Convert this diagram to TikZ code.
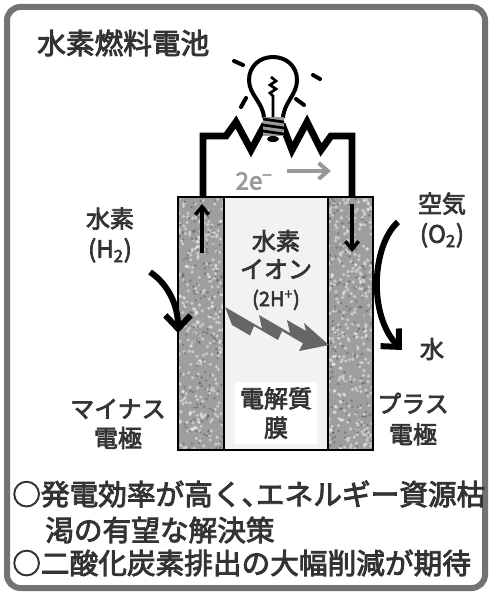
\documentclass[tikz,border=0pt]{standalone}
\usepackage{fontspec}
\setmainfont{Noto Sans CJK JP}[FakeBold=3]
\usetikzlibrary{arrows.meta}

\begin{document}
\begin{tikzpicture}[x=0.75pt,y=-0.75pt]
\tikzstyle{txt}=[text=black!80, inner sep=0pt, align=center, font=\fontsize{18}{22}\selectfont]
\tikzstyle{big}=[txt, font=\fontsize{21.5}{25}\selectfont]
\tikzstyle{wire}=[line width=5.2pt, line join=miter]
\tikzstyle{flow}=[line width=4.5pt, -{Straight Barb[length=10pt,width=19pt]}]
\tikzstyle{current}=[line width=2.6pt, -{Straight Barb[length=6pt,width=10pt]}]
\tikzstyle{ray}=[line width=3pt, line cap=round]

\useasboundingbox (0,0) rectangle (491,595);
% outer frame
\draw[black!55, line width=4.5pt, rounded corners=10pt] (7,7) rectangle (485,588);

% electrodes with a grainy fill
\pgfmathsetseed{17}
\begin{scope}
\clip (178,197) rectangle (224,450) (328,197) rectangle (373,450);
\fill[black!38] (178,197) rectangle (373,450);
\foreach \i in {1,...,1300}
  \fill[white, opacity=.45] ({178+195*rnd},{197+253*rnd}) circle (1.8);
\foreach \i in {1,...,700}
  \fill[black!80, opacity=.35] ({178+195*rnd},{197+253*rnd}) circle (1.3);
\end{scope}
% membrane
\fill[black!5] (224,197) rectangle (328,450);
\draw[line width=2pt] (178,197) rectangle (373,450);
\draw[line width=2pt] (224,197) -- (224,450) (328,197) -- (328,450);

% outer circuit
\coordinate (lw) at (203,197);
\coordinate (rw) at (352,197);
\draw[wire] (lw) -- (203,136) -- (226,136) -- (236,122) -- (251,150) -- (265,124);
\draw[wire] (282,124) -- (292,150) -- (307,122) -- (321,150) -- (331,136) -- (352,136) -- (rw);

% lamp
\fill[white] (264,118) .. controls (263,102) and (249,95) .. (249,80) .. controls (249,66) and (260,57) .. (273,57) .. controls (286,57) and (297,66) .. (297,80) .. controls (297,95) and (284,102) .. (283,118) -- cycle;
\draw[line width=3pt] (264,118) .. controls (263,102) and (249,95) .. (249,80) .. controls (249,66) and (260,57) .. (273,57) .. controls (286,57) and (297,66) .. (297,80) .. controls (297,95) and (284,102) .. (283,118);
\draw[line width=2pt] (273,117) -- (273,96) -- (270,93) -- (276,89) -- (270,85) -- (276,81) -- (271,77);
\fill[black!40] (263,117) rectangle (284,136);
\foreach \y in {119,125,131}
  \draw[line width=2pt] (263,\y) -- (284,\y+3);
\fill (273,139) ellipse (6 and 3);
\draw[ray] (234,61) -- (243,65);
\draw[ray] (313,75) -- (320,79);
\draw[ray] (241,107) -- (246,98);
\draw[ray] (296,99) -- (304,105);

% electrons in the wire
\draw[current] (202,253) -- (202,204);
\draw[current] (352,204) -- (352,252);
\node[txt, text=black!40, font=\fontsize{18}{20}\selectfont] (elec) at (254,181) {2e\textsuperscript{−}};
\coordinate (e1) at (287,171);
\coordinate (e2) at (331,171);
\draw[line width=3pt, black!40, -{Straight Barb[length=7pt,width=12pt]}] (e1) -- (e2);

% labels
\node[big, anchor=west] (title) at (37,43) {水素燃料電池};
\node[txt, font=\fontsize{18}{22.5}\selectfont] (hyd) at (110,235) {水素\\(H\textsubscript{2})};
\node[txt, font=\fontsize{18}{22.5}\selectfont] (air) at (442,220) {空気\\(O\textsubscript{2})};
\node[txt] (water) at (432,349) {水};
\node[txt] (minus) at (118,424) {マイナス\\電極};
\node[txt, font=\fontsize{18}{23}\selectfont] (plus) at (413,419) {プラス\\電極};
\node[txt, font=\fontsize{18}{21}\selectfont] (ion) at (276,270) {水素\\イオン\\{\fontsize{15}{18}\selectfont(2H\textsuperscript{+})}};
\node[txt, fill=white, inner sep=4pt] (memb) at (276,413) {電解質\\膜};

% proton flow
\fill[black!60] (225,307) -- (262,328.5) -- (259,315) -- (290,333) -- (287,320) -- (306,331) -- (304,323) -- (329,345) -- (299,351) -- (303,343.3) -- (282,331.1) -- (278,340) -- (254,326.1) -- (250,335.5) -- (232,325) -- cycle;

% gas in and out
\coordinate (h2in) at (150,272);
\coordinate (h2at) at (178,333);
\coordinate (o2in) at (398,222);
\coordinate (h2o) at (402,350);
\draw[flow] (h2in) .. controls (168,284) and (178,305) .. (h2at);
\draw[flow] (o2in) .. controls (372,245) and (368,315) .. (h2o);

% notes
\node[big, anchor=west] (note1) at (12,494) {○発電効率が高く、\hspace{-.5em}エネルギー資源枯};
\node[big, anchor=west] (note2) at (45,530) {渇の有望な解決策};
\node[big, anchor=west] (note3) at (12,563) {○二酸化炭素排出の大幅削減が期待};
\end{tikzpicture}
\end{document}
